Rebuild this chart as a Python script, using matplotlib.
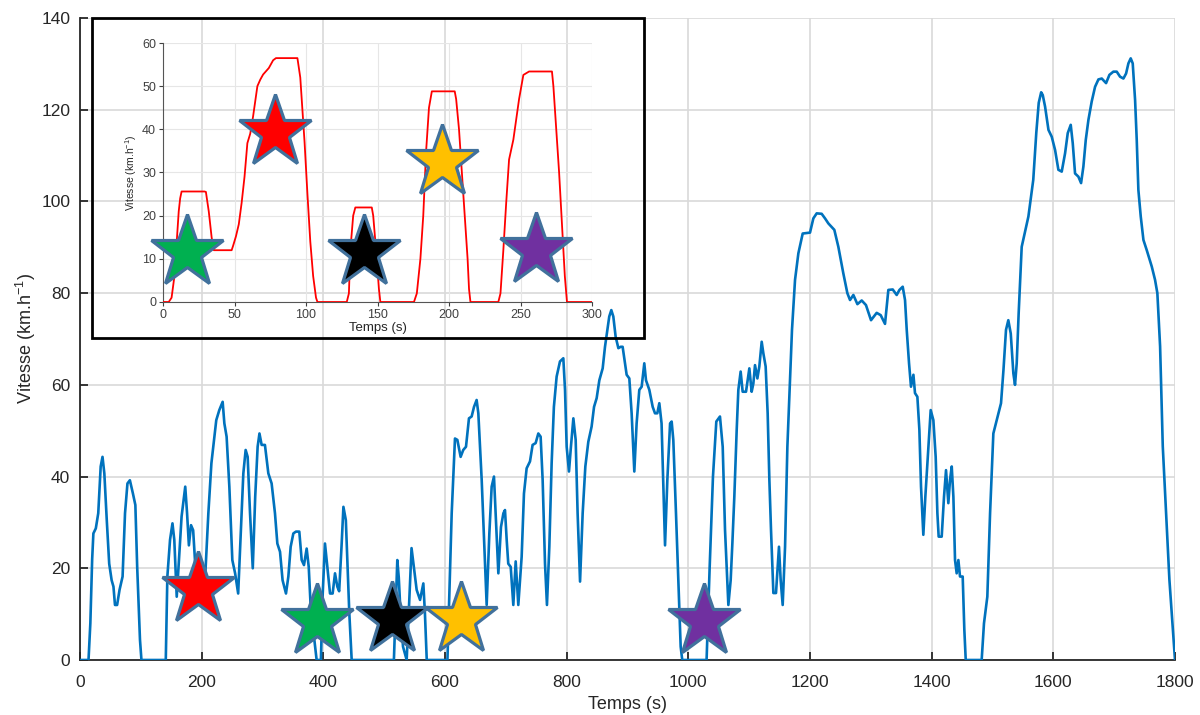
import matplotlib
matplotlib.use("Agg")
import matplotlib.pyplot as plt
from matplotlib.patches import Rectangle

plt.rcParams["font.family"] = ["Liberation Sans", "DejaVu Sans"]
plt.rcParams["mathtext.fontset"] = "custom"
plt.rcParams["mathtext.rm"] = "Liberation Sans"
plt.rcParams["mathtext.it"] = "Liberation Sans:italic"

# full driving cycle (main plot), 10 values per line
cycle_t = [0, 14, 17, 20, 22, 26, 30, 34, 37, 40,
           44, 48, 52, 55, 57.5, 61, 65, 70, 74, 78,
           82, 87, 91, 94, 98.6, 101, 141, 143.6, 148, 152,
           155, 159, 162, 167, 173, 176, 179, 182.5, 186, 191,
           196, 201.6, 205.5, 211, 216, 224, 229, 234.5, 237.3, 241,
           245.5, 250.4, 255, 260, 264, 268.5, 272.3, 275.6, 279.5, 284,
           288, 292, 295, 298.6, 304, 309.6, 315, 320.5, 324.4, 328.8,
           333, 338.6, 342.5, 346.3, 350.7, 355, 360.5, 364.4, 368.2, 372.6,
           376, 379.7, 384.7, 389, 396, 399, 402.7, 406.6, 411, 415.3,
           419.2, 423, 426, 430, 433, 437, 442.7, 446.6, 516, 519,
           521.6, 524, 527, 531, 537, 541, 545, 549, 553.4, 559,
           564.4, 567, 570, 604, 611, 616.4, 620.3, 625.7, 630, 634.5,
           639.4, 643.8, 647.7, 652, 654.8, 660.3, 665.7, 668.5, 672.9, 676.7,
           680.5, 684, 687.7, 692, 696, 698.6, 701.4, 704, 708, 712.3,
           716.2, 720.5, 726, 729.8, 734.2, 739.7, 744, 749, 753.4, 757.2,
           760.5, 764.4, 767.6, 771.5, 775.3, 779, 783.5, 789, 794.5, 797.3,
           800, 803.8, 807, 811, 814.8, 818, 822, 826.3, 830.7, 835.6,
           841, 845, 849.3, 853.7, 859.2, 863, 866.8, 870, 873.4, 876.7,
           880.5, 885, 888.8, 892, 896, 898.6, 903, 906.8, 911.2, 915,
           919.4, 923.3, 927.6, 930.4, 935.9, 941.4, 945.2, 949, 952.3, 956,
           959, 961.7, 965.5, 970, 972.6, 975.3, 979.7, 983.5, 987.4, 990,
           1030, 1035, 1040.5, 1046, 1052, 1056.5, 1060.3, 1065.8, 1069.6, 1072.4,
           1075.6, 1079.5, 1082.2, 1086, 1089.3, 1094.8, 1100.3, 1104.1, 1106.9, 1109.6,
           1113.5, 1116.7, 1120.6, 1123.3, 1127.1, 1130.4, 1133.2, 1135.9, 1139.8, 1144.1,
           1149, 1151.8, 1155.1, 1159, 1162.8, 1167.1, 1170.4, 1175.4, 1180.9, 1188,
           1200, 1205.5, 1211, 1219.2, 1224.7, 1230.2, 1240, 1246.6, 1254.8, 1261.4,
           1265.8, 1271.3, 1277.9, 1285, 1292, 1300.3, 1309.6, 1316.2, 1323.3, 1328.8,
           1336, 1342.5, 1347, 1352.4, 1356.2, 1359, 1362.8, 1366, 1370, 1372.6,
           1376.5, 1379.8, 1382.5, 1386.3, 1389.6, 1393, 1398.4, 1402.8, 1406.6, 1409.4,
           1411.5, 1416.5, 1420.3, 1423.6, 1427.4, 1430.2, 1433, 1435.7, 1438.4, 1441.1,
           1443.9, 1446.6, 1451, 1453.7, 1456, 1482.2, 1486, 1491.5, 1496, 1501.4,
           1506.9, 1514, 1518, 1522.2, 1526, 1530, 1534.3, 1537, 1539.8, 1543,
           1548, 1552, 1559, 1567, 1572, 1576, 1580, 1582.6, 1586.4, 1592,
           1597.4, 1602.9, 1608.3, 1613.8, 1619.3, 1623.7, 1628.6, 1631.9, 1635.7, 1641.2,
           1645.6, 1649.4, 1653.3, 1657.7, 1663.1, 1668.6, 1674.1, 1679.6, 1686.7, 1692.2,
           1698.7, 1704.2, 1709.7, 1715.2, 1719.6, 1723.4, 1727.2, 1730.5, 1734.4, 1737.1,
           1739.8, 1743.7, 1748.1, 1753.5, 1761.8, 1767.2, 1771, 1775.5, 1779.9, 1785.4,
           1790.8, 1800]
cycle_v = [0, 0, 8, 22, 27.6, 28.7, 32, 42.2, 44.3, 40.7,
           30.5, 21, 17.4, 16, 12, 12, 15.3, 18.2, 32, 38.5,
           39.2, 36.3, 33.8, 20.3, 4.4, 0, 0, 18.2, 26.2, 29.8,
           26.2, 13.8, 20.3, 31.3, 37.8, 32, 25, 29.4, 28.3, 17.4,
           12.4, 12.4, 17.4, 32, 42.9, 52.3, 54.5, 56.3, 51.6, 48.7,
           37.8, 21.8, 18.9, 14.5, 26.9, 40.7, 45.8, 44.3, 32, 20,
           35.6, 46.5, 49.4, 46.9, 46.9, 40.7, 38.5, 32, 25.4, 23.6,
           17.4, 14.5, 18.2, 24.7, 27.6, 28, 28, 21.8, 20.7, 24.3,
           20.3, 10.2, 5, 0, 0, 14.5, 25.4, 20.3, 14.5, 14.5,
           18.9, 16, 15, 25, 33.4, 30.5, 10.2, 0, 0, 12,
           21.8, 18, 10, 2.9, 0, 12, 24.4, 20, 15.3, 13.1,
           16.7, 10.2, 0, 0, 32, 48.3, 48, 44.3, 45.8, 46.5,
           52.7, 53.1, 55.2, 56.7, 53.8, 39.3, 21, 12, 27.6, 37.8,
           40, 29.8, 18.9, 29, 32, 32.7, 26.2, 21, 20.3, 12,
           21.5, 12, 22.5, 36.3, 41.8, 43.3, 46.9, 47.3, 49.4, 48.7,
           39.3, 21, 12, 24.7, 42.9, 55.2, 61.8, 65.1, 65.8, 58.9,
           46.5, 41.1, 46.5, 52.7, 48, 32, 17.1, 32, 42.2, 47.6,
           50.9, 55.2, 57.1, 61, 63.6, 68.3, 71.9, 74.9, 76.3, 74.9,
           70.5, 68, 68.3, 68.3, 64.7, 62.2, 61.4, 53.8, 41.1, 51.6,
           58.9, 59.6, 64.7, 61, 58.9, 55.2, 53.8, 53.8, 56, 51.6,
           37.8, 25, 39.3, 51.6, 52, 48, 32, 17.4, 2.9, 0,
           0, 20, 40, 52, 53.1, 46.5, 28.4, 12, 17.4, 25.5,
           35.6, 50.2, 58.9, 62.9, 58.5, 58.5, 63.6, 58.5, 60.3, 64.3,
           61.4, 64, 69.4, 66.9, 64, 53.8, 39.3, 28.4, 14.6, 14.6,
           24.7, 17.4, 12, 24.7, 46.5, 61, 72, 82.9, 88.7, 93,
           93.2, 96.3, 97.4, 97.3, 96.3, 95.2, 93.8, 90.1, 84.3, 80,
           78.5, 79.6, 77.6, 78.4, 77.4, 74.1, 75.7, 75.2, 73.3, 80.7,
           80.8, 79.6, 80.7, 81.4, 78.5, 72, 64.7, 59.6, 62.2, 58.2,
           57.4, 50.2, 37.8, 27.3, 35.6, 42.9, 54.5, 52.3, 44.3, 32,
           26.9, 26.9, 35.6, 41.4, 34.2, 39.3, 42.2, 35.6, 21.8, 18.9,
           21.8, 18.2, 18.2, 6.6, 0, 0, 8, 13.8, 32, 49.4,
           52.3, 56, 63.2, 72, 74.1, 71.2, 62.5, 60, 64.7, 75.6,
           90.1, 92.5, 96.7, 104.7, 115, 121.5, 123.8, 123.2, 120.7, 115.6,
           114.1, 111.2, 106.9, 106.5, 110.5, 114.9, 116.7, 112.7, 106.1, 105.4,
           104, 107.6, 113.4, 117.8, 121.8, 125, 126.6, 126.8, 125.8, 127.6,
           128.3, 128.3, 127.2, 126.8, 127.9, 130.1, 131.2, 130.1, 122.1, 113.4,
           102.5, 96.7, 91.6, 89.4, 85.8, 82.9, 80, 68.4, 46.6, 32,
           17.5, 0]

# short cycle shown in the inset
inset_t = [0, 4, 6, 8, 10, 11, 12, 13, 29, 30, 32, 34, 35.5, 48, 49, 51, 53, 55, 57, 59, 61, 63,
           66, 68, 70, 74, 77, 79, 94, 96, 97, 99, 101, 103, 105, 107, 108, 128.5, 130, 131,
           133, 134.5, 146, 147, 149, 151, 152, 175.5, 177.5, 180, 182, 184, 186, 188, 204,
           205, 207, 209, 211, 213, 214, 215, 234.5, 236, 238, 240, 242, 245, 249, 252, 256, 272,
           273, 275, 277, 279, 281, 282.5, 300]
inset_v = [0, 0, 1, 6, 16, 21, 24, 25.6, 25.6, 25.5, 21, 15, 12, 12, 13, 15.2, 18, 23, 29, 36.8, 39, 43,
           50, 51.5, 52.7, 54.2, 56, 56.5, 56.5, 52, 47, 37, 25, 14, 6, 1, 0, 0, 2, 12,
           20, 21.9, 21.9, 20, 12, 3, 0, 0, 2, 10, 20, 35, 45, 48.8, 48.8,
           47, 40, 30, 20, 10, 3, 0, 0, 2, 12, 23, 33, 37.6, 47, 52.6, 53.4, 53.4,
           50, 40, 30, 18, 6, 0, 0]

star_colors = ["#FF0000", "#00B050", "#000000", "#FFC000", "#7030A0"]
main_star_t = [194, 390, 513, 626, 1026]
main_star_v = [15.5, 8.5, 9, 9, 8.5]
inset_star_t = [78, 17, 140.5, 195, 261]
inset_star_v = [39.4, 11.6, 11.6, 32.4, 12]

star_edge = "#41719C"
star_size = 55
text_col = "#262626"

fig = plt.figure(figsize=(12, 7.15), dpi=100)
ax = fig.add_axes([80 / 1200, 55 / 715, 1095 / 1200, 642 / 715])
ax.plot(cycle_t, cycle_v, color="#0072BD", lw=1.9, zorder=3)
for t, v, c in zip(main_star_t, main_star_v, star_colors):
    ax.plot(t, v, marker="*", ms=star_size, mfc=c, mec=star_edge, mew=2.3, zorder=4)

ax.set_xlim(0, 1800)
ax.set_ylim(0, 140)
ax.set_xticks(range(0, 1801, 200))
ax.set_yticks(range(0, 141, 20))
ax.grid(True, color="#d9d9d9", lw=1.2)
ax.set_axisbelow(True)
for s in ["top", "right"]:
    ax.spines[s].set_visible(False)
for s in ["left", "bottom"]:
    ax.spines[s].set_color(text_col)
    ax.spines[s].set_linewidth(1.3)
ax.tick_params(direction="in", length=6, width=1.3, colors=text_col, labelsize=12.5)
ax.tick_params(axis="x", pad=11)
ax.tick_params(axis="y", pad=7)
ax.set_xlabel("Temps (s)", fontsize=13, color=text_col, labelpad=4)
ax.set_ylabel("Vitesse (km.h$^{-1}$)", fontsize=13, color=text_col, labelpad=2)

# inset frame
fig.patches.append(Rectangle((92 / 1200, 377 / 715), 552 / 1200, 320 / 715, transform=fig.transFigure,
                             fill=False, edgecolor="black", lw=2, zorder=5))

ins = fig.add_axes([163 / 1200, 413 / 715, 429 / 1200, 259 / 715])
ins.set_facecolor("none")
ins.plot(inset_t, inset_v, color="red", lw=1.3, zorder=3)
for t, v, c in zip(inset_star_t, inset_star_v, star_colors):
    ins.plot(t, v, marker="*", ms=star_size, mfc=c, mec=star_edge, mew=2.3, zorder=4, clip_on=False)
ins.set_xlim(0, 300)
ins.set_ylim(0, 60)
ins.set_xticks(range(0, 301, 50))
ins.set_yticks(range(0, 61, 10))
ins.grid(True, color="#e6e6e6", lw=0.8)
ins.set_axisbelow(True)
for s in ["top", "right"]:
    ins.spines[s].set_visible(False)
for s in ["left", "bottom"]:
    ins.spines[s].set_color("#555555")
    ins.spines[s].set_linewidth(0.8)
ins.tick_params(direction="out", length=3, width=0.8, colors="#404040", labelsize=9, pad=2)
ins.set_xlabel("Temps (s)", fontsize=9.5, color="#262626", labelpad=1)
ins.set_ylabel("Vitesse (km.h$^{-1}$)", fontsize=7.5, color="#262626", labelpad=2)

fig.savefig("out.png", dpi=100)
